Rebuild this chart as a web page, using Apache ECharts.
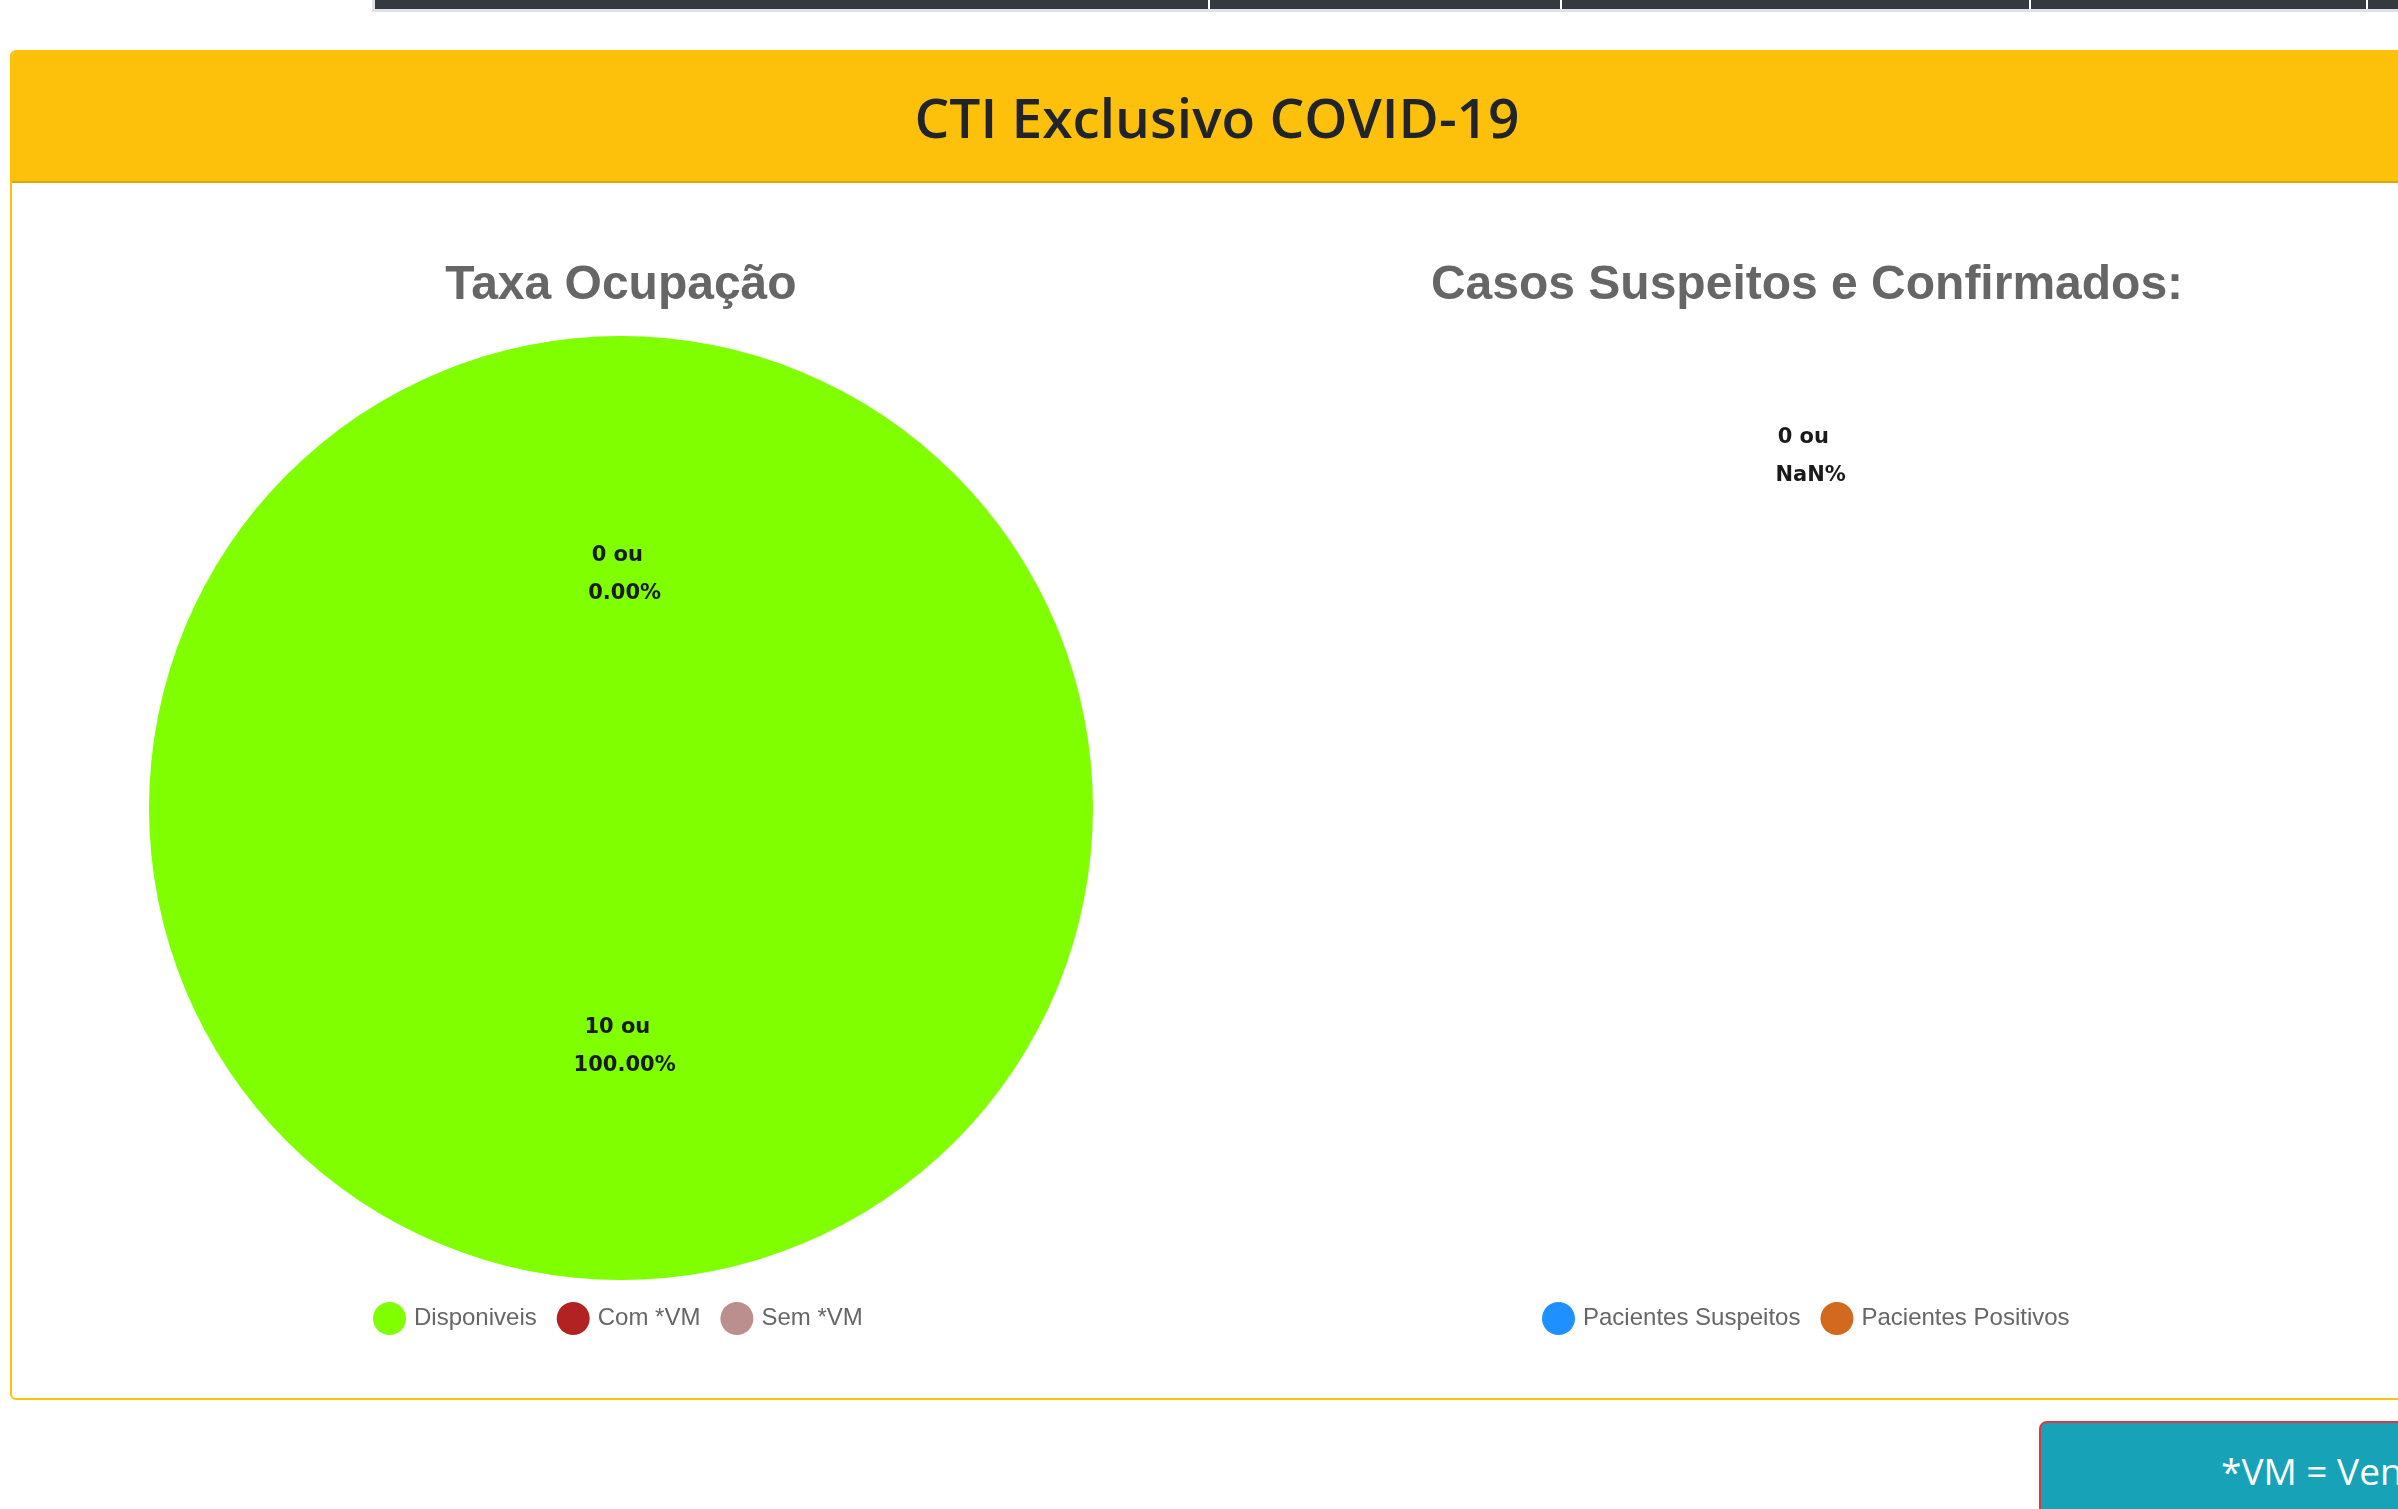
<!DOCTYPE html>
<html>
<head>
<meta charset="utf-8">
<script src="https://cdn.jsdelivr.net/npm/echarts@6/dist/echarts.min.js"></script>
<style>
  html, body { margin: 0; padding: 0; width: 2398px; height: 1509px; overflow: hidden; background: #fff; }
  #topbar { position: absolute; left: 372px; top: 0; width: 2100px; height: 9px; background: #343a40;
            border-left: 3px solid #dee2e6; border-bottom: 3px solid #dee2e6; }
  .sep { position: absolute; top: 0; width: 2px; height: 9px; background: #fff; }
  #card { position: absolute; left: 10px; top: 50px; width: 2410px; height: 1346px;
          border: 2px solid #ffc107; border-radius: 6px; background: #fff; overflow: hidden; box-sizing: content-box; }
  #cardhead { position: absolute; left: 0; top: 0; right: 0; height: 129px; background: #fdc10b;
              border-bottom: 2px solid #dca70a; display: flex; align-items: center; justify-content: center;
              font-family: "Open Sans", "Noto Sans", sans-serif; font-weight: 600; font-size: 55px; color: #212529; }
  #vmbox { position: absolute; left: 2039px; top: 1421px; width: 600px; height: 140px; background: #17a2b8;
           border: 2px solid #dc3545; border-radius: 8px; box-sizing: border-box;
           font-family: "Open Sans", "Noto Sans", sans-serif; font-size: 37px; color: #fff;
           padding-left: 180px; padding-top: 22px; white-space: nowrap; }
  #chart { position: absolute; left: 0; top: 0; width: 2398px; height: 1509px; }
</style>
</head>
<body>
<div id="topbar">
  <div class="sep" style="left:833px"></div>
  <div class="sep" style="left:1185px"></div>
  <div class="sep" style="left:1654px"></div>
  <div class="sep" style="left:1991px"></div>
</div>
<div id="card"><div id="cardhead">CTI Exclusivo COVID-19</div></div>
<div id="vmbox">*VM = Ventilação Mecânica</div>
<div id="chart"></div>
<script>
const occupancyTitle = 'Taxa Ocupação';
const occupancyCategories = ['Disponiveis', 'Com *VM', 'Sem *VM'];
const occupancyValues = [10, 0, 0];
const occupancyColors = ['#7FFF00', '#B22222', '#BC8F8F'];

const casesTitle = 'Casos Suspeitos e Confirmados:';
const casesCategories = ['Pacientes Suspeitos', 'Pacientes Positivos'];
const casesValues = [0, 0];
const casesColors = ['#1E90FF', '#D2691E'];

function sumOf(arr) { return arr.reduce((a, b) => a + b, 0); }
function labelFormatter(values) {
  const total = sumOf(values);
  return function (p) {
    const pct = (p.value / total * 100).toFixed(2);
    return p.value + ' ou \n ' + pct + '%';
  };
}
function buildData(cats, vals, colors) {
  return cats.map((c, i) => {
    const item = { name: c, value: vals[i], itemStyle: { color: colors[i] } };
    if (vals[i] === 0) item.label = { offset: [0, 6] };
    return item;
  });
}

const labelStyle = {
  show: true, position: 'inside', color: '#1a1a1a',
  fontFamily: 'DejaVu Sans', fontWeight: 'bold', fontSize: 21, lineHeight: 38,
  textBorderWidth: 0
};
const titleStyle = { fontFamily: 'Liberation Sans', fontWeight: 'bold', fontSize: 48, color: '#666' };
const legendText = { fontFamily: 'Liberation Sans', fontSize: 24, color: '#666', padding: [0, 0, 0, 3] };

const chart = echarts.init(document.getElementById('chart'), null, { renderer: 'canvas' });
chart.setOption({
  animation: false,
  backgroundColor: 'transparent',
  title: [
    { text: occupancyTitle, left: 616, top: 257, textAlign: 'center', textStyle: titleStyle },
    { text: casesTitle, left: 1802, top: 257, textAlign: 'center', textStyle: titleStyle }
  ],
  legend: [
    { data: occupancyCategories, left: 368, top: 1297, icon: 'circle', itemWidth: 33, itemHeight: 33,
      itemGap: 20, textStyle: legendText, selectedMode: false },
    { data: casesCategories, left: 1537, top: 1297, icon: 'circle', itemWidth: 33, itemHeight: 33,
      itemGap: 20, textStyle: legendText, selectedMode: false }
  ],
  series: [
    { type: 'pie', name: occupancyTitle, center: [621, 808], radius: 472, startAngle: 90, clockwise: true,
      data: buildData(occupancyCategories, occupancyValues, occupancyColors),
      label: Object.assign({ formatter: labelFormatter(occupancyValues) }, labelStyle),
      labelLine: { show: false }, emphasis: { disabled: true }, silent: true,
      stillShowZeroSum: false, showEmptyCircle: false, avoidLabelOverlap: false },
    { type: 'pie', name: casesTitle, center: [1807, 808], radius: 708, startAngle: 90, clockwise: true,
      data: buildData(casesCategories, casesValues, casesColors),
      label: Object.assign({ formatter: labelFormatter(casesValues) }, labelStyle),
      labelLine: { show: false }, emphasis: { disabled: true }, silent: true,
      stillShowZeroSum: false, showEmptyCircle: false, avoidLabelOverlap: false }
  ]
});
</script>
</body>
</html>
